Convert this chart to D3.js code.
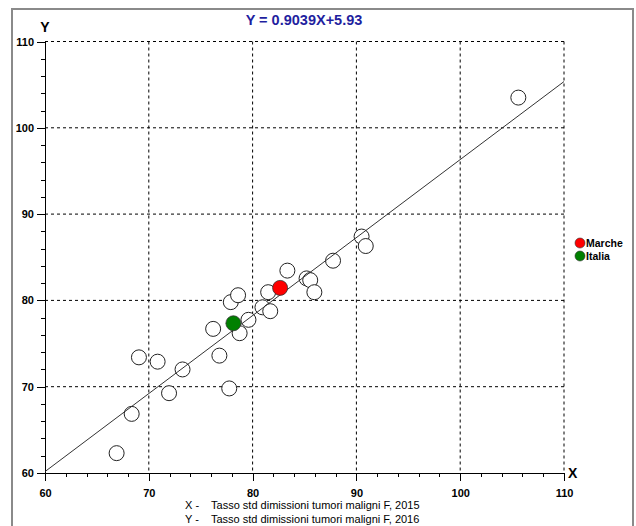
<!DOCTYPE html>
<html>
<head>
<meta charset="utf-8">
<script src="https://cdn.jsdelivr.net/npm/d3@7"></script>
<style>
  body { margin: 0; background: #fff; }
  text { font-family: "Liberation Sans", Arial, sans-serif; }
</style>
</head>
<body>
<div id="chart"></div>
<script>
// Dati ***********************************************************************
// X = tasso 2015, Y = tasso 2016, una riga per regione
const xValues = [66.9, 68.35, 69.05, 70.85, 71.95, 73.25, 76.2, 76.8, 77.75, 77.9, 78.6,
                 78.75, 79.6, 80.95, 81.7, 81.5, 83.35, 85.2, 85.55, 85.95, 87.75, 90.5,
                 90.9, 105.6];
const yValues = [62.3, 66.85, 73.4, 72.9, 69.25, 72.0, 76.7, 73.6, 69.8, 79.8, 80.6,
                 76.2, 77.75, 79.2, 78.75, 80.95, 83.45, 82.55, 82.35, 80.95, 84.6, 87.4,
                 86.3, 103.5];

// punti evidenziati
const highlightNames = ["Marche", "Italia"];
const highlightX = [82.65, 78.15];
const highlightY = [81.45, 77.35];
const highlightColors = ["#ff0000", "#008000"];

// retta di regressione
const slope = 0.9039;
const intercept = 5.93;

// assi
const xTicks = [60, 70, 80, 90, 100, 110];
const yTicks = [60, 70, 80, 90, 100, 110];
const minorTicks = d3.range(60, 111, 2);

const xLines = ["X -    Tasso std dimissioni tumori maligni F, 2015",
                "Y -    Tasso std dimissioni tumori maligni F, 2016"];

// Dimensioni ******************************************************************
const width = 636, height = 526;
const plotLeft = 45, plotRight = 564, plotTop = 41.5, plotBottom = 473;

const x = d3.scaleLinear().domain([60, 110]).range([plotLeft, plotRight]);
const y = d3.scaleLinear().domain([60, 110]).range([plotBottom, plotTop]);

const svg = d3.select("#chart")
  .append("svg")
  .attr("width", width)
  .attr("height", height);

// cornice grigia
svg.append("rect")
  .attr("x", 12).attr("y", 9)
  .attr("width", 621).attr("height", 540)
  .attr("fill", "white")
  .attr("stroke", "#8a8a8a")
  .attr("stroke-width", 2);

// griglia tratteggiata
svg.append("g")
  .selectAll("line")
  .data(xTicks.slice(1))
  .join("line")
  .attr("x1", d => x(d)).attr("x2", d => x(d))
  .attr("y1", plotTop).attr("y2", plotBottom)
  .attr("stroke", "black")
  .attr("stroke-dasharray", "3,3");

svg.append("g")
  .selectAll("line")
  .data(yTicks.slice(1))
  .join("line")
  .attr("x1", plotLeft).attr("x2", plotRight)
  .attr("y1", d => y(d)).attr("y2", d => y(d))
  .attr("stroke", "black")
  .attr("stroke-dasharray", "3,3");

// assi con tacche minori e maggiori
const xMinor = svg.append("g")
  .attr("transform", `translate(0,${plotBottom})`)
  .call(d3.axisBottom(x).tickValues(minorTicks).tickSize(4).tickFormat(""));

const xMajor = svg.append("g")
  .attr("transform", `translate(0,${plotBottom})`)
  .call(d3.axisBottom(x).tickValues(xTicks).tickSize(8).tickPadding(8));

const yMinor = svg.append("g")
  .attr("transform", `translate(${plotLeft},0)`)
  .call(d3.axisLeft(y).tickValues(minorTicks).tickSize(4).tickFormat(""));

const yMajor = svg.append("g")
  .attr("transform", `translate(${plotLeft},0)`)
  .call(d3.axisLeft(y).tickValues(yTicks).tickSize(8).tickPadding(3));

[xMinor, xMajor, yMinor, yMajor].forEach(g => {
  g.selectAll("path, line").attr("stroke", "black").attr("shape-rendering", "crispEdges");
  g.selectAll("text")
    .attr("fill", "black")
    .style("font-family", "'Liberation Sans', Arial, sans-serif")
    .style("font-size", "11px")
    .style("font-weight", "bold");
});
xMajor.select(".domain").remove();
yMajor.select(".domain").remove();

// punti bianchi
svg.append("g")
  .selectAll("circle")
  .data(xValues)
  .join("circle")
  .attr("cx", d => x(d))
  .attr("cy", (d, i) => y(yValues[i]))
  .attr("r", 7.5)
  .attr("fill", "white")
  .attr("stroke", "#222")
  .attr("stroke-width", 1);

// retta di regressione
svg.append("line")
  .attr("x1", x(60)).attr("y1", y(slope * 60 + intercept))
  .attr("x2", x(110)).attr("y2", y(slope * 110 + intercept))
  .attr("stroke", "#333")
  .attr("stroke-width", 1);

// Marche e Italia
svg.append("g")
  .selectAll("circle")
  .data(highlightX)
  .join("circle")
  .attr("cx", d => x(d))
  .attr("cy", (d, i) => y(highlightY[i]))
  .attr("r", 7.5)
  .attr("fill", (d, i) => highlightColors[i])
  .attr("stroke", "#333")
  .attr("stroke-width", 0.8);

// legenda
const legend = svg.append("g").attr("transform", "translate(580,243)");
highlightNames.forEach((name, i) => {
  legend.append("circle")
    .attr("cx", 0).attr("cy", i * 13)
    .attr("r", 5)
    .attr("fill", highlightColors[i])
    .attr("stroke", "#333")
    .attr("stroke-width", 0.6);
  legend.append("text")
    .attr("x", 6).attr("y", i * 13)
    .attr("dy", "0.35em")
    .style("font-size", "10.5px")
    .style("font-weight", "bold")
    .text(name);
});

// titolo con l'equazione
svg.append("text")
  .attr("x", 304).attr("y", 25)
  .attr("text-anchor", "middle")
  .attr("fill", "#1f1f9f")
  .style("font-size", "14.5px")
  .style("font-weight", "bold")
  .text(`Y = ${slope}X+${intercept}`);

// etichette degli assi
svg.append("text")
  .attr("x", 45).attr("y", 32)
  .attr("text-anchor", "middle")
  .style("font-size", "14px")
  .style("font-weight", "bold")
  .text("Y");

svg.append("text")
  .attr("x", 568).attr("y", plotBottom)
  .attr("dy", "0.35em")
  .style("font-size", "14px")
  .style("font-weight", "bold")
  .text("X");

// descrizione delle variabili
svg.append("g")
  .selectAll("text")
  .data(xLines)
  .join("text")
  .attr("x", 185)
  .attr("y", (d, i) => 509 + i * 14)
  .style("font-size", "11px")
  .style("white-space", "pre")
  .attr("xml:space", "preserve")
  .text(d => d);
</script>
</body>
</html>
